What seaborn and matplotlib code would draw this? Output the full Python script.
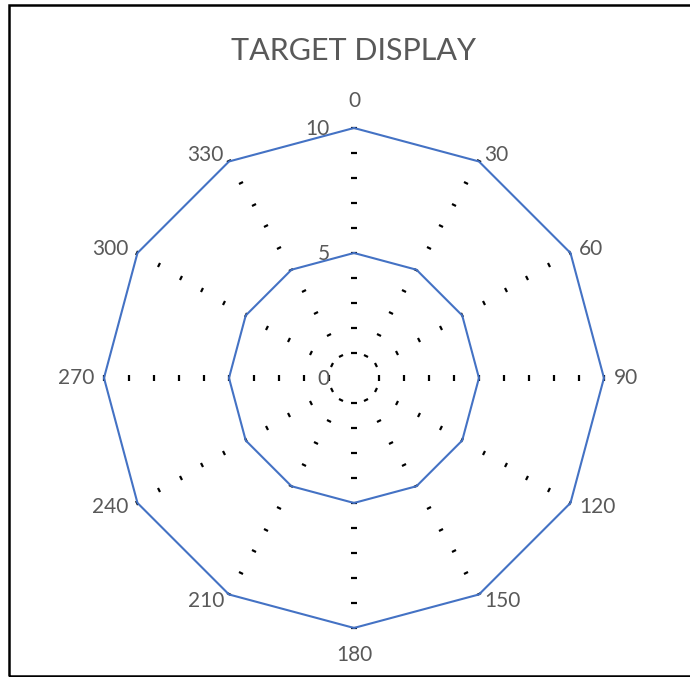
import numpy as np
import matplotlib
matplotlib.use("Agg")
import matplotlib.pyplot as plt
import seaborn as sns
from matplotlib.markers import MarkerStyle
from matplotlib.transforms import Affine2D
from matplotlib.patches import Rectangle

sns.set_style("white")
plt.rcParams['font.family'] = ['Lato', 'DejaVu Sans']

# chart data
angles = [0, 30, 60, 90, 120, 150, 180, 210, 240, 270, 300, 330]
angle_labels = [str(a) for a in angles]
outer_ring = [10] * 12
inner_ring = [5] * 12
radial_ticks = [0, 5, 10]
tick_steps = list(range(1, 11))

title = "TARGET DISPLAY"
text_col = '#595959'
line_col = '#4472C4'

fig = plt.figure(figsize=(6.9, 6.77), dpi=100)
ax = fig.add_axes([0.1507, 0.0724, 0.7246, 0.7386], projection='polar')
ax.set_theta_zero_location('N')
ax.set_theta_direction(-1)
ax.set_ylim(0, 10)
ax.grid(False)
ax.spines['polar'].set_visible(False)
ax.set_xticks([])
ax.set_yticks([])
ax.patch.set_alpha(0)

# close the loop by going round to 360
th = np.deg2rad(angles + [360])

# small tick marks along each spoke (perpendicular to it)
for a in angles:
    mk = MarkerStyle('_', transform=Affine2D().rotate_deg(-a))
    ax.plot(np.full(len(tick_steps), np.deg2rad(a)), tick_steps, linestyle='none',
            marker=mk, markersize=4, markeredgewidth=1.6, color='black', clip_on=False, zorder=2)

# the two series
sns.lineplot(x=th, y=outer_ring + [outer_ring[0]], ax=ax, color=line_col, lw=1.5,
             sort=False, estimator=None, clip_on=False, zorder=3)
sns.lineplot(x=th, y=inner_ring + [inner_ring[0]], ax=ax, color=line_col, lw=1.5,
             sort=False, estimator=None, clip_on=False, zorder=3)
ax.set_xlabel('')
ax.set_ylabel('')

# category labels
px = 0.72
for a, lab in zip(angles, angle_labels):
    s, c = np.sin(np.deg2rad(a)), np.cos(np.deg2rad(a))
    if abs(s) < 1e-6:
        ha = 'center'
        dx, dy = 0, 27 * c
    else:
        ha = 'left' if s > 0 else 'right'
        dx, dy = 10 * s, 8 * c
    ax.annotate(lab, (np.deg2rad(a), 10), xytext=(dx * px, dy * px), textcoords='offset points',
                ha=ha, va='center', fontsize=15, color=text_col, annotation_clip=False)

# radial axis labels
for r in radial_ticks:
    ax.annotate(str(r), (0, r), xytext=(-24 * px, -1 * px), textcoords='offset points',
                ha='right', va='center', fontsize=15, color=text_col, annotation_clip=False)

fig.text(0.512, 1 - 51 / 677, title, ha='center', va='center', fontsize=22,
         color=text_col)

# chart border
fig.patches.append(Rectangle((9 / 690, 1 / 677), 2.0, 1 - 6 / 677, transform=fig.transFigure,
                             fill=False, edgecolor='black', lw=1.8))

fig.savefig('out.png', dpi=100)
